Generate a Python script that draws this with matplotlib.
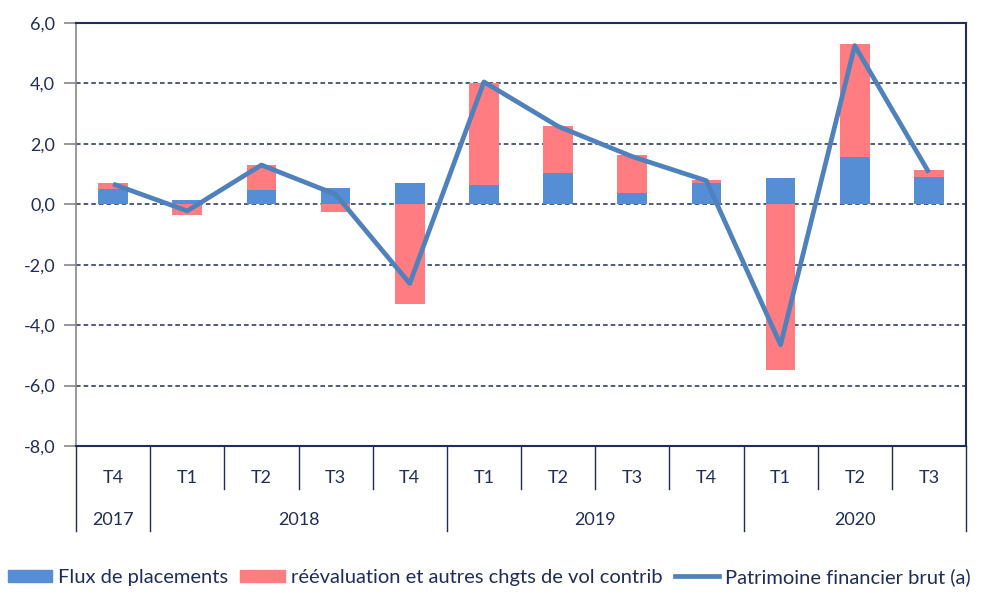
import matplotlib
matplotlib.use("Agg")
import matplotlib.pyplot as plt
import matplotlib.transforms as mtransforms
from matplotlib.patches import Patch
from matplotlib.lines import Line2D
import numpy as np

plt.rcParams['font.family'] = ['Lato', 'DejaVu Sans']

quarters = ["T4", "T1", "T2", "T3", "T4", "T1", "T2", "T3", "T4", "T1", "T2", "T3"]
years = ["2017", "2018", "2019", "2020"]
year_counts = [1, 4, 4, 3]
flux = [0.52, 0.13, 0.47, 0.53, 0.71, 0.64, 1.04, 0.37, 0.71, 0.86, 1.58, 0.91]
reeval = [0.19, -0.36, 0.84, -0.24, -3.29, 3.39, 1.55, 1.27, 0.10, -5.50, 3.72, 0.23]
patrimoine = [0.67, -0.22, 1.30, 0.33, -2.62, 4.05, 2.58, 1.58, 0.78, -4.65, 5.25, 1.05]

navy = "#1F2D5A"
blue = "#558ED5"
red = "#FF7C80"
line_c = "#4F81BD"

fig = plt.figure(figsize=(9.92, 5.92), dpi=100)
ax = fig.add_axes([76/992, 1-446/592, (966-76)/992, (446-23)/592])

x = np.arange(len(quarters))
flux = np.array(flux)
reeval = np.array(reeval)
bottom_r = np.where(reeval > 0, flux, 0)
ax.bar(x, flux, width=0.4, color=blue, zorder=2)
ax.bar(x, reeval, width=0.4, bottom=bottom_r, color=red, zorder=2)
ax.plot(x, patrimoine, color=line_c, lw=3.4, zorder=3, solid_capstyle='butt')

ax.set_xlim(-0.5, len(quarters) - 0.5)
ax.set_ylim(-8, 6)
yt = np.arange(-8, 7, 2)
ax.set_yticks(yt)
ax.set_yticklabels([f"{v:.1f}".replace(".", ",") for v in yt], color=navy, fontsize=13)
ax.tick_params(axis='y', length=9, color="#868686", width=1.2, pad=6)
ax.set_xticks([])
for v in yt[1:-1]:
    ax.axhline(v, color=navy, lw=1.1, ls=(0, (3, 2)), zorder=1)

ax.spines['left'].set_color("#868686")
ax.spines['left'].set_linewidth(1.2)
for s in ['top', 'right', 'bottom']:
    ax.spines[s].set_color(navy)
    ax.spines[s].set_linewidth(1.5)

# category axis
trans = mtransforms.blended_transform_factory(ax.transData, ax.transAxes)
for i, q in enumerate(quarters):
    ax.text(i, -0.0757, q, transform=trans, ha='center', va='center', color=navy, fontsize=13)
bounds = np.cumsum([0] + year_counts)
for i in range(len(quarters) + 1):
    bot = -0.2 if i in bounds else -0.102
    ax.plot([i - 0.5, i - 0.5], [0, bot], transform=trans, color=navy, lw=1, clip_on=False)
for yname, a, b in zip(years, bounds[:-1], bounds[1:]):
    ax.text((a + b - 1) / 2, -0.175, yname, transform=trans, ha='center', va='center', color=navy, fontsize=13)

handles = [Patch(color=blue), Patch(color=red), Line2D([], [], color=line_c, lw=3.4)]
labels = ["Flux de placements", "réévaluation et autres chgts de vol contrib", "Patrimoine financier brut (a)"]
fig.legend(handles, labels, loc='center left', bbox_to_anchor=(0.008, 0.025), ncol=3, frameon=False,
           fontsize=14.5, labelcolor=navy, handlelength=2.2, handleheight=0.6, handletextpad=0.3,
           columnspacing=0.6, borderaxespad=0, borderpad=0.0)

fig.savefig("out.png", dpi=100)
